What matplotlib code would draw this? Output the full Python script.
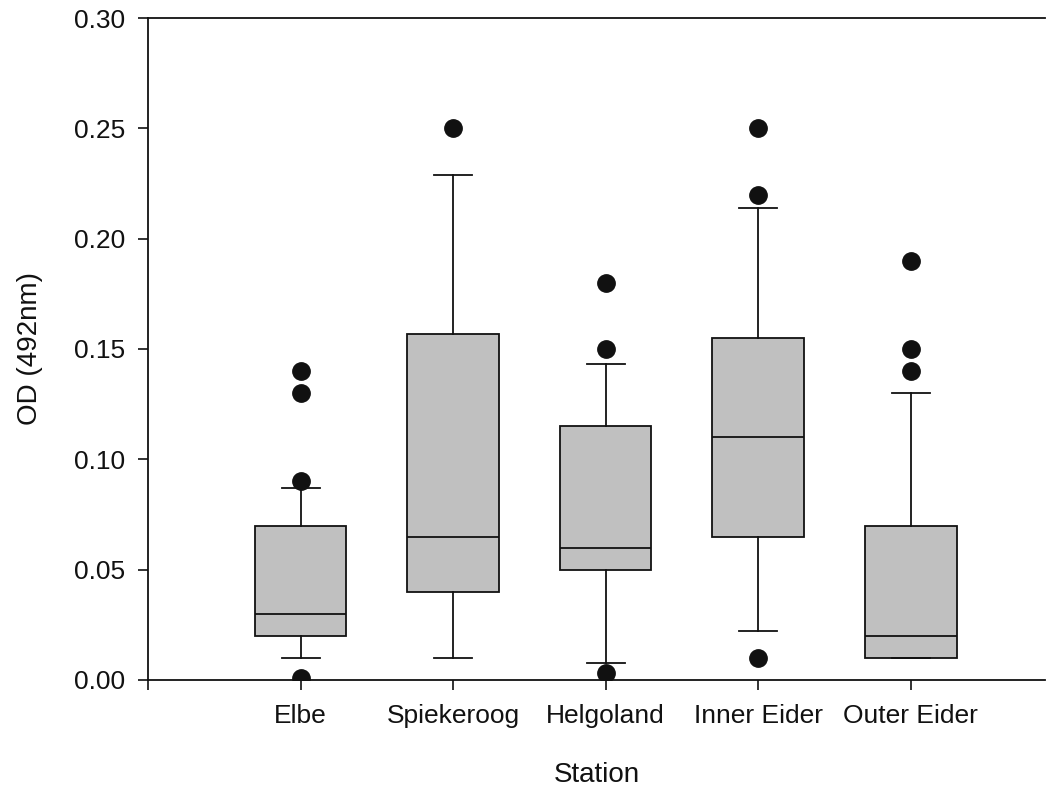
import matplotlib
matplotlib.use('Agg')
import matplotlib.pyplot as plt

plt.rcParams['font.family'] = ['Liberation Sans', 'DejaVu Sans']

stations = ['Elbe', 'Spiekeroog', 'Helgoland', 'Inner Eider', 'Outer Eider']
q1 = [0.020, 0.040, 0.050, 0.065, 0.010]
med = [0.030, 0.065, 0.060, 0.110, 0.020]
q3 = [0.070, 0.157, 0.115, 0.155, 0.070]
whislo = [0.010, 0.010, 0.0075, 0.022, 0.010]
whishi = [0.087, 0.229, 0.143, 0.214, 0.130]
outliers = [
    [0.14, 0.13, 0.09, 0.001],
    [0.25],
    [0.18, 0.15, 0.003],
    [0.25, 0.22, 0.01],
    [0.19, 0.15, 0.14],
]

stats = []
for i, name in enumerate(stations):
    stats.append({'label': name, 'q1': q1[i], 'med': med[i], 'q3': q3[i],
                  'whislo': whislo[i], 'whishi': whishi[i], 'fliers': outliers[i]})

fig = plt.figure(figsize=(10.53, 7.87), dpi=100)
ax = fig.add_axes([0.1406, 0.1360, 0.8518, 0.8411])

pos = list(range(1, len(stations) + 1))
ax.bxp(stats, positions=pos, widths=0.6, capwidths=0.25, patch_artist=True,
       boxprops=dict(facecolor='#c0c0c0', edgecolor='#111111', linewidth=1.3),
       medianprops=dict(color='#111111', linewidth=1.3),
       whiskerprops=dict(color='#111111', linewidth=1.3),
       capprops=dict(color='#111111', linewidth=1.3),
       flierprops=dict(marker='o', markersize=12.5, markerfacecolor='#111111',
                       markeredgecolor='#111111'))

ax.set_xlim(0, 5.88)
ax.set_ylim(0, 0.30)
ax.set_xticks([0] + pos)
ax.set_xticklabels([''] + stations)
yt = [0, 0.05, 0.10, 0.15, 0.20, 0.25, 0.30]
ax.set_yticks(yt)
ax.set_yticklabels(['%.2f' % v for v in yt])

ax.spines['right'].set_visible(False)
for s in ['left', 'bottom', 'top']:
    ax.spines[s].set_linewidth(1.3)
    ax.spines[s].set_color('#111111')
ax.tick_params(direction='out', length=7.5, width=1.2, colors='#111111',
               labelsize=19, pad=9)
ax.tick_params(axis='x', pad=10)

ax.set_xlabel('Station', fontsize=20, labelpad=24, color='#111111')
ax.set_ylabel('OD (492nm)', fontsize=20, labelpad=22, color='#111111')

fig.savefig('out.png', dpi=100)
